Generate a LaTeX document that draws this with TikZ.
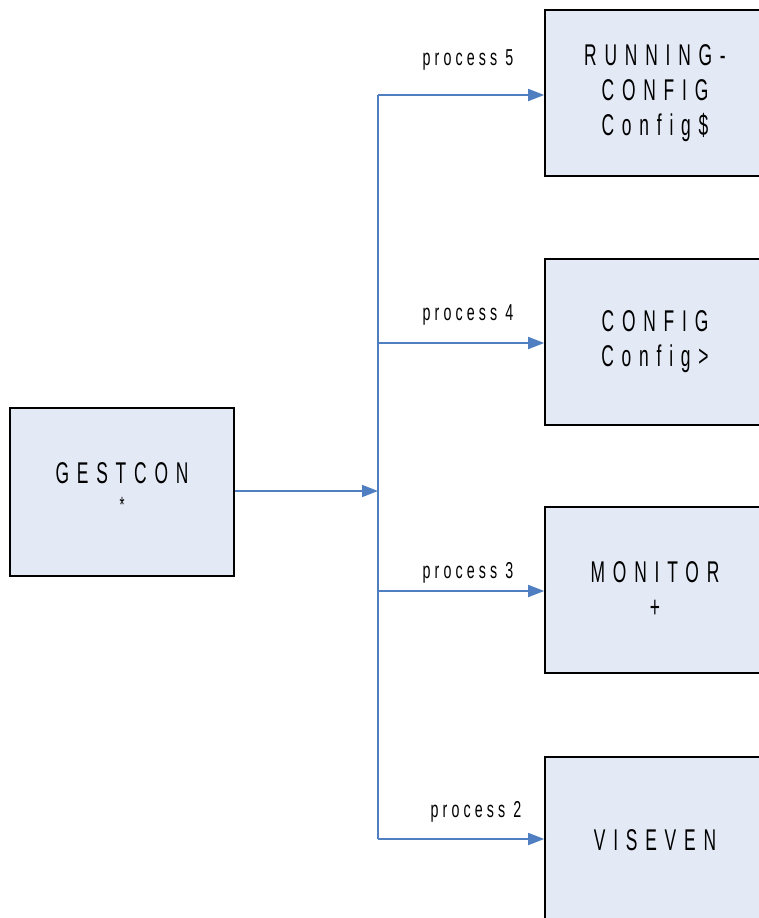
\documentclass[tikz,border=0pt]{standalone}
\usepackage{fontspec}
\usetikzlibrary{arrows.meta}
\newfontfamily\boxfont[FakeStretch=0.58,LetterSpace=26]{Liberation Sans}
\newfontfamily\labfont[FakeStretch=0.62,LetterSpace=18]{Liberation Sans}
\definecolor{boxfill}{HTML}{E4EAF5}
\definecolor{linkblue}{HTML}{4F7FC0}
\tikzset{
  procbox/.style={draw=black, line width=1.6pt, fill=boxfill, minimum width=224pt,
    minimum height=168pt, align=center, inner sep=0pt,
    font={\boxfont\fontsize{30pt}{35pt}\selectfont}},
  taskbox/.style={procbox, minimum width=220pt, minimum height=166pt},
  link/.style={draw=linkblue, line width=1.6pt},
  linkarrow/.style={link, -{Triangle[length=16pt,width=12pt]}},
  proclabel/.style={anchor=base, inner sep=0pt, font={\labfont\fontsize{23pt}{25pt}\selectfont}}
}
\begin{document}
\begin{tikzpicture}[x=1pt,y=-1pt]
  \useasboundingbox (0,0) rectangle (759,918);
  \clip (0,0) rectangle (759,918);
  % boxes
  \node[procbox] (gest) at (122,492)
    {GESTCON\\[-6pt]{\fontsize{22pt}{22pt}\selectfont *}\rule[-8pt]{0pt}{0pt}};
  \node[taskbox] (run) at (655,93) {RUNNING-\\CONFIG\\Config\$};
  \node[taskbox] (cfg) at (655,342) {CONFIG\\Config>};
  \node[taskbox] (mon) at (655,590) {MONITOR\\+};
  \node[taskbox] (vis) at (655,840) {VISEVEN};
  % trunk line
  \coordinate (t5) at (378,95);
  \coordinate (t4) at (378,343);
  \coordinate (j) at (378,491);
  \coordinate (t3) at (378,591);
  \coordinate (t2) at (378,839);
  \draw[link] (t5) -- (t2);
  \draw[linkarrow] (gest.east |- j) -- (j);
  % branches
  \draw[linkarrow] (t5) -- (t5 -| run.west);
  \draw[linkarrow] (t4) -- (t4 -| cfg.west);
  \draw[linkarrow] (t3) -- (t3 -| mon.west);
  \draw[linkarrow] (t2) -- (t2 -| vis.west);
  % labels
  \node[proclabel] (l5) at (468,65) {process 5};
  \node[proclabel] (l4) at (468,320) {process 4};
  \node[proclabel] (l3) at (468,578) {process 3};
  \node[proclabel] (l2) at (476,817) {process 2};
\end{tikzpicture}
\end{document}
